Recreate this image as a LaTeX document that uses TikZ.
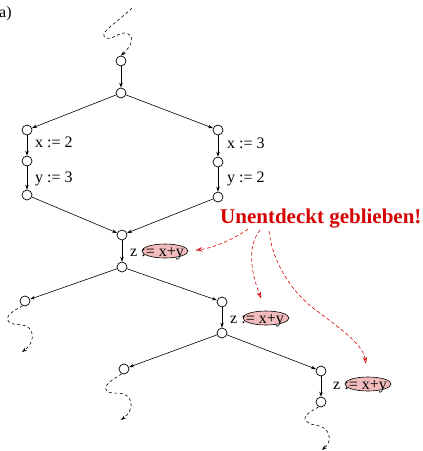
\documentclass[tikz,border=0pt]{standalone}
\usepackage{fontspec}
\setmainfont{Liberation Serif}
\usetikzlibrary{arrows.meta,shapes.geometric}
\definecolor{rd}{RGB}{215,0,0}
\definecolor{pk}{RGB}{242,188,188}
\begin{document}
\begin{tikzpicture}[x=1pt,y=-1pt,
  st/.style={circle,draw,minimum size=10pt,inner sep=0pt,line width=0.7pt},
  ed/.style={-{Stealth[length=5pt,width=3.5pt]},line width=0.6pt},
  dsh/.style={dash pattern=on 3pt off 2.5pt,line width=0.6pt,-{Stealth[length=5pt,width=3.5pt]}},
  rdsh/.style={rd,dash pattern=on 3.5pt off 2.5pt,line width=0.6pt,-{Stealth[length=7pt,width=4.5pt,open]}},
  lbl/.style={font=\fontsize{16}{18}\selectfont,inner sep=0pt,anchor=base west},
  hl/.style={ellipse,draw,fill=pk,minimum width=46pt,minimum height=14pt,inner sep=0pt,line width=0.6pt}]
\useasboundingbox (0,0) rectangle (423,451);
% nodes
\node[st] (n1) at (121,61) {};
\node[st] (n2) at (121,93) {};
\node[st] (L1) at (27,130) {};
\node[st] (L2) at (27,161) {};
\node[st] (L3) at (27,195) {};
\node[st] (R1) at (218,130) {};
\node[st] (R2) at (218,162) {};
\node[st] (R3) at (218,197) {};
\node[st] (M1) at (122,235) {};
\node[st] (M2) at (122,267) {};
\node[st] (LL1) at (25,301) {};
\node[st] (RR1) at (222,302) {};
\node[st] (RR2) at (222,333) {};
\node[st] (LLL1) at (124,369) {};
\node[st] (RRR1) at (321,371) {};
\node[st] (RRR2) at (321,402) {};
% labels
\node[lbl] (a) at (-1,17) {a)};
\node[lbl] (t1) at (35,147) {x := 2};
\node[lbl] (t2) at (35,182) {y := 3};
\node[lbl] (t3) at (227,148) {x := 3};
\node[lbl] (t4) at (227,182) {y := 2};
\node[hl] (E1) at (165,251) {};
\node[hl] (E2) at (266,318) {};
\node[hl] (E3) at (368,384) {};
\node[lbl] (z1) at (130,256) {z := x+y};
\node[lbl] (z2) at (230,323) {z := x+y};
\node[lbl] (z3) at (333,389) {z := x+y};
\node[inner sep=0pt,anchor=base west,text=rd,font=\fontsize{21}{24}\selectfont\bfseries] (U) at (220,223) {Unentdeckt geblieben!};
% edges
\draw[ed] (n1) -- (n2);
\draw[ed] (n2) -- (L1);
\draw[ed] (n2) -- (R1);
\draw[ed] (L1) -- (L2);
\draw[ed] (L2) -- (L3);
\draw[ed] (R1) -- (R2);
\draw[ed] (R2) -- (R3);
\draw[ed] (L3) -- (M1);
\draw[ed] (R3) -- (M1);
\draw[ed] (M1) -- (M2);
\draw[ed] (M2) -- (LL1);
\draw[ed] (M2) -- (RR1);
\draw[ed] (RR1) -- (RR2);
\draw[ed] (RR2) -- (LLL1);
\draw[ed] (RR2) -- (RRR1);
\draw[ed] (RRR1) -- (RRR2);
% dashed squiggles
\coordinate (top) at (132,8);
\draw[dsh] (top) .. controls (112,27) and (98,33) .. (106,38)
  .. controls (114,41) and (122,27) .. (131,36)
  .. controls (134,43) and (127,50) .. (n1.north);
\begin{scope}[shift={(25,301)}]
\coordinate (e1) at (-3,51);
\draw[dsh] (LL1.245) .. controls (-12,10) and (-21,15) .. (-16,21)
  .. controls (-12,25) and (-1,22) .. (4,27)
  .. controls (9,32) and (9,42) .. (e1);
\end{scope}
\begin{scope}[shift={(124,369)}]
\coordinate (e2) at (-3,51);
\draw[dsh] (LLL1.245) .. controls (-12,11) and (-22,17) .. (-17,22)
  .. controls (-13,26) and (-2,22) .. (3,27)
  .. controls (9,32) and (9,42) .. (e2);
\end{scope}
\begin{scope}[shift={(321,402)}]
\coordinate (e3) at (1,48);
\draw[dsh] (RRR2.245) .. controls (-11,10) and (-19,14) .. (-15,19)
  .. controls (-11,24) and (-1,22) .. (4,27)
  .. controls (10,32) and (10,40) .. (e3);
\end{scope}
% red arrows
\coordinate (s1) at (248,229);
\coordinate (s2) at (260,230);
\coordinate (s3) at (269,231);
\draw[rdsh,shorten >=7pt] (s1) .. controls (236,238) and (214,248) .. (E1.east);
\draw[rdsh,shorten >=13pt] (s2) .. controls (246,248) and (252,275) .. (E2.north);
\draw[rdsh,shorten >=13pt] (s3) .. controls (272,260) and (290,290) .. (313,308)
  .. controls (345,332) and (363,345) .. (E3.north);
\end{tikzpicture}
\end{document}
